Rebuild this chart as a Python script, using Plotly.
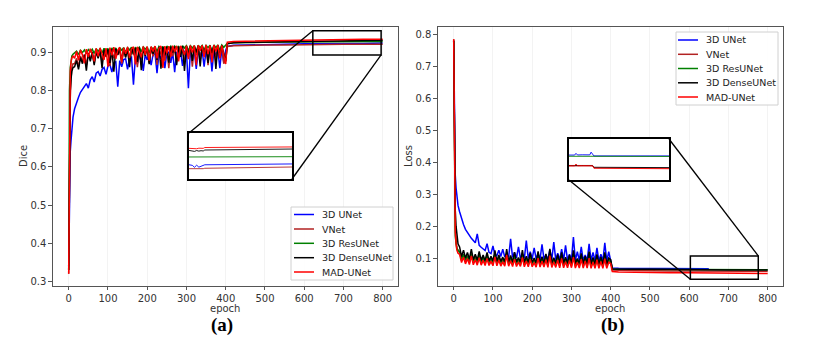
import plotly.graph_objects as go

W, H = 815, 355

MODELS = ["3D UNet", "VNet", "3D ResUNet", "3D DenseUNet", "MAD-UNet"]
COLORS = ["#0000ff", "#b22222", "#008000", "#000000", "#ff0000"]

# epochs sampled: dense at start, every 5 epochs while noisy, sparse after the lr drop at 400
EPOCHS = [0, 1, 2, 4, 6, 8, 11] + list(range(15, 401, 5)) + [404, 420, 450, 500, 550, 600, 650, 700, 750, 800]

# ---- (a) Dice ----
DICE_UNET = [0.34, 0.45, 0.58, 0.64, 0.67, 0.70, 0.73,
             0.752, 0.770, 0.782, 0.795, 0.803, 0.812, 0.818, 0.806, 0.828, 0.836, 0.822, 0.845, 0.849,
             0.838, 0.855, 0.860, 0.842, 0.864, 0.868, 0.848, 0.872, 0.875, 0.810, 0.878, 0.862, 0.881,
             0.883, 0.855, 0.885, 0.887, 0.815, 0.888, 0.870, 0.890, 0.892, 0.851, 0.893, 0.880, 0.894,
             0.866, 0.895, 0.896, 0.845, 0.897, 0.883, 0.898, 0.858, 0.899, 0.900, 0.872, 0.900, 0.848,
             0.901, 0.886, 0.902, 0.864, 0.902, 0.903, 0.806, 0.903, 0.878, 0.904, 0.856, 0.904, 0.889,
             0.905, 0.862, 0.905, 0.884, 0.906, 0.850, 0.906, 0.892, 0.907, 0.858, 0.907, 0.875, 0.905,
             0.915, 0.918, 0.919, 0.920, 0.921, 0.922, 0.922, 0.923, 0.923, 0.924]
DICE_VNET = [0.32, 0.45, 0.65, 0.78, 0.83, 0.86, 0.87,
             0.870, 0.884, 0.862, 0.890, 0.876, 0.894, 0.866, 0.897, 0.881, 0.899, 0.870, 0.901, 0.886,
             0.902, 0.873, 0.903, 0.889, 0.904, 0.864, 0.905, 0.884, 0.906, 0.893, 0.906, 0.870, 0.907,
             0.888, 0.907, 0.876, 0.908, 0.893, 0.908, 0.861, 0.909, 0.884, 0.909, 0.895, 0.910, 0.872,
             0.910, 0.889, 0.910, 0.867, 0.911, 0.894, 0.911, 0.878, 0.911, 0.858, 0.912, 0.890, 0.912,
             0.875, 0.912, 0.896, 0.912, 0.869, 0.913, 0.887, 0.913, 0.862, 0.913, 0.892, 0.914, 0.880,
             0.914, 0.893, 0.914, 0.866, 0.914, 0.889, 0.915, 0.874, 0.915, 0.896, 0.915, 0.870, 0.880,
             0.915, 0.917, 0.918, 0.919, 0.919, 0.920, 0.920, 0.921, 0.921, 0.921]
DICE_RES = [0.33, 0.60, 0.80, 0.86, 0.88, 0.89, 0.895,
            0.898, 0.903, 0.894, 0.905, 0.899, 0.906, 0.896, 0.907, 0.901, 0.908, 0.897, 0.909, 0.902,
            0.909, 0.898, 0.910, 0.903, 0.910, 0.895, 0.911, 0.904, 0.911, 0.899, 0.912, 0.905, 0.912,
            0.900, 0.912, 0.906, 0.913, 0.896, 0.913, 0.907, 0.913, 0.901, 0.914, 0.908, 0.914, 0.898,
            0.914, 0.908, 0.915, 0.902, 0.915, 0.909, 0.915, 0.897, 0.916, 0.910, 0.916, 0.903, 0.916,
            0.910, 0.916, 0.899, 0.917, 0.911, 0.917, 0.904, 0.917, 0.911, 0.917, 0.900, 0.918, 0.912,
            0.918, 0.905, 0.918, 0.912, 0.918, 0.901, 0.919, 0.912, 0.919, 0.906, 0.919, 0.913, 0.919,
            0.923, 0.925, 0.926, 0.926, 0.927, 0.927, 0.928, 0.928, 0.928, 0.928]
DICE_DENSE = [0.33, 0.50, 0.70, 0.80, 0.83, 0.85, 0.86,
              0.862, 0.878, 0.855, 0.886, 0.870, 0.893, 0.852, 0.898, 0.876, 0.901, 0.866, 0.903, 0.884,
              0.905, 0.858, 0.906, 0.889, 0.907, 0.872, 0.908, 0.849, 0.909, 0.893, 0.909, 0.878, 0.910,
              0.886, 0.910, 0.861, 0.911, 0.897, 0.911, 0.875, 0.912, 0.853, 0.912, 0.890, 0.913, 0.869,
              0.913, 0.896, 0.913, 0.880, 0.914, 0.857, 0.914, 0.892, 0.914, 0.873, 0.915, 0.899, 0.915,
              0.866, 0.915, 0.888, 0.916, 0.851, 0.916, 0.894, 0.916, 0.877, 0.916, 0.900, 0.917, 0.863,
              0.917, 0.891, 0.917, 0.872, 0.917, 0.898, 0.918, 0.856, 0.918, 0.886, 0.918, 0.895, 0.876,
              0.922, 0.925, 0.926, 0.927, 0.928, 0.929, 0.930, 0.930, 0.931, 0.931]
DICE_MAD = [0.32, 0.55, 0.75, 0.85, 0.875, 0.885, 0.89,
            0.884, 0.902, 0.879, 0.906, 0.893, 0.871, 0.908, 0.887, 0.909, 0.895, 0.876, 0.910, 0.889,
            0.911, 0.898, 0.880, 0.911, 0.862, 0.912, 0.892, 0.913, 0.883, 0.905, 0.913, 0.874, 0.912,
            0.896, 0.914, 0.885, 0.909, 0.914, 0.868, 0.914, 0.899, 0.887, 0.915, 0.893, 0.915, 0.878,
            0.915, 0.902, 0.916, 0.884, 0.911, 0.916, 0.859, 0.916, 0.897, 0.916, 0.888, 0.917, 0.901,
            0.917, 0.876, 0.917, 0.906, 0.893, 0.917, 0.882, 0.918, 0.899, 0.918, 0.866, 0.918, 0.904,
            0.918, 0.887, 0.919, 0.895, 0.918, 0.873, 0.919, 0.902, 0.919, 0.884, 0.918, 0.891, 0.869,
            0.926, 0.928, 0.929, 0.930, 0.931, 0.932, 0.932, 0.933, 0.934, 0.934]

# ---- (b) Loss ----
LOSS_UNET = [0.78, 0.60, 0.45, 0.36, 0.32, 0.29, 0.265,
             0.245, 0.222, 0.205, 0.190, 0.180, 0.170, 0.162, 0.155, 0.148, 0.176, 0.140, 0.134, 0.129,
             0.124, 0.145, 0.118, 0.114, 0.138, 0.110, 0.108, 0.125, 0.105, 0.128, 0.104, 0.112, 0.103,
             0.160, 0.102, 0.118, 0.101, 0.135, 0.100, 0.112, 0.099, 0.155, 0.099, 0.120, 0.098, 0.132,
             0.098, 0.114, 0.097, 0.143, 0.097, 0.110, 0.096, 0.126, 0.096, 0.150, 0.095, 0.115, 0.095,
             0.128, 0.094, 0.140, 0.094, 0.112, 0.094, 0.166, 0.093, 0.120, 0.093, 0.135, 0.093, 0.110,
             0.092, 0.145, 0.092, 0.118, 0.092, 0.132, 0.091, 0.112, 0.091, 0.148, 0.091, 0.120, 0.095,
             0.069, 0.068, 0.068, 0.067, 0.067, 0.067, 0.067, None, None, None]
LOSS_VNET = [0.785, 0.60, 0.35, 0.20, 0.16, 0.135, 0.122,
             0.118, 0.092, 0.108, 0.088, 0.104, 0.086, 0.112, 0.085, 0.100, 0.084, 0.106, 0.083, 0.098,
             0.083, 0.104, 0.082, 0.096, 0.082, 0.109, 0.081, 0.099, 0.081, 0.094, 0.080, 0.113, 0.080,
             0.097, 0.080, 0.102, 0.079, 0.093, 0.079, 0.106, 0.078, 0.096, 0.078, 0.101, 0.078, 0.092,
             0.077, 0.104, 0.077, 0.095, 0.077, 0.100, 0.076, 0.112, 0.076, 0.093, 0.076, 0.099, 0.075,
             0.103, 0.075, 0.094, 0.075, 0.098, 0.075, 0.107, 0.074, 0.092, 0.074, 0.101, 0.074, 0.096,
             0.074, 0.104, 0.073, 0.093, 0.073, 0.099, 0.073, 0.095, 0.073, 0.102, 0.073, 0.092, 0.088,
             0.063, 0.062, 0.061, 0.061, 0.060, 0.060, 0.059, 0.059, 0.059, 0.059]
LOSS_RES = [0.78, 0.50, 0.28, 0.17, 0.145, 0.13, 0.125,
            0.120, 0.098, 0.112, 0.095, 0.108, 0.093, 0.114, 0.092, 0.105, 0.091, 0.110, 0.090, 0.103,
            0.089, 0.108, 0.089, 0.101, 0.088, 0.112, 0.088, 0.103, 0.087, 0.099, 0.087, 0.115, 0.086,
            0.102, 0.086, 0.106, 0.085, 0.098, 0.085, 0.110, 0.084, 0.100, 0.084, 0.105, 0.084, 0.097,
            0.083, 0.108, 0.083, 0.099, 0.083, 0.104, 0.082, 0.114, 0.082, 0.097, 0.082, 0.103, 0.081,
            0.107, 0.081, 0.098, 0.081, 0.102, 0.081, 0.110, 0.080, 0.096, 0.080, 0.104, 0.080, 0.099,
            0.080, 0.107, 0.079, 0.097, 0.079, 0.102, 0.079, 0.098, 0.079, 0.105, 0.079, 0.095, 0.090,
            0.066, 0.065, 0.065, 0.064, 0.064, 0.064, 0.064, 0.064, 0.064, 0.064]
LOSS_DENSE = [0.78, 0.62, 0.40, 0.25, 0.20, 0.165, 0.145,
              0.135, 0.105, 0.125, 0.100, 0.118, 0.097, 0.128, 0.095, 0.112, 0.094, 0.121, 0.093, 0.110,
              0.092, 0.118, 0.091, 0.106, 0.091, 0.124, 0.090, 0.110, 0.090, 0.103, 0.089, 0.128, 0.089,
              0.108, 0.088, 0.119, 0.088, 0.102, 0.088, 0.125, 0.087, 0.106, 0.087, 0.116, 0.087, 0.100,
              0.086, 0.121, 0.086, 0.104, 0.086, 0.113, 0.085, 0.129, 0.085, 0.101, 0.085, 0.112, 0.084,
              0.118, 0.084, 0.103, 0.084, 0.110, 0.084, 0.124, 0.083, 0.099, 0.083, 0.115, 0.083, 0.106,
              0.083, 0.120, 0.082, 0.102, 0.082, 0.112, 0.082, 0.104, 0.082, 0.118, 0.082, 0.100, 0.095,
              0.066, 0.065, 0.065, 0.065, 0.064, 0.064, 0.064, 0.063, 0.063, 0.063]
LOSS_MAD = [0.785, 0.55, 0.30, 0.18, 0.145, 0.125, 0.115,
            0.112, 0.086, 0.103, 0.082, 0.098, 0.080, 0.107, 0.079, 0.095, 0.078, 0.101, 0.078, 0.093,
            0.077, 0.099, 0.077, 0.090, 0.076, 0.104, 0.076, 0.094, 0.075, 0.088, 0.075, 0.110, 0.075,
            0.092, 0.074, 0.097, 0.074, 0.087, 0.074, 0.102, 0.073, 0.091, 0.073, 0.096, 0.073, 0.086,
            0.072, 0.100, 0.072, 0.090, 0.072, 0.095, 0.071, 0.108, 0.071, 0.088, 0.071, 0.094, 0.070,
            0.099, 0.070, 0.089, 0.070, 0.093, 0.070, 0.103, 0.069, 0.087, 0.069, 0.097, 0.069, 0.091,
            0.069, 0.100, 0.068, 0.088, 0.068, 0.095, 0.068, 0.090, 0.068, 0.098, 0.068, 0.087, 0.083,
            0.058, 0.057, 0.056, 0.055, 0.054, 0.054, 0.053, 0.053, 0.052, 0.052]

# ---- zoomed insets (as drawn in the inset boxes) ----
INSET_A_EPOCHS = [330, 345, 355, 365, 375, 385, 395, 402, 800]
INSET_A = [
    [0.9222, 0.9218, 0.9204, 0.9219, 0.9205, 0.9210, 0.9215, 0.9222, 0.9228],
    [0.9194, 0.9193, 0.9194, 0.9192, 0.9194, 0.9193, 0.9194, 0.9197, 0.9206],
    [0.9278, 0.9278, 0.9277, 0.9278, 0.9277, 0.9278, 0.9278, 0.9279, 0.9280],
    [0.9325, 0.9322, 0.9318, 0.9324, 0.9320, 0.9323, 0.9321, 0.9328, 0.9335],
    [0.9340, 0.9338, 0.9342, 0.9337, 0.9341, 0.9338, 0.9340, 0.9346, 0.9350],
]
INSET_B_EPOCHS = [270, 290, 300, 307, 315, 340, 365, 380, 387, 395, 402, 800]
INSET_B = [
    [0.0662, 0.0664, 0.0662, 0.0682, 0.0663, 0.0665, 0.0662, 0.0664, 0.0696, 0.0663, 0.0652, 0.0652],
    [0.0534, 0.0535, 0.0534, 0.0535, 0.0534, 0.0535, 0.0534, 0.0535, 0.0534, 0.0535, 0.0512, 0.0508],
    [0.0648, 0.0648, 0.0647, 0.0648, 0.0648, 0.0647, 0.0648, 0.0648, 0.0648, 0.0647, 0.0646, 0.0646],
    [0.0540, 0.0540, 0.0541, 0.0540, 0.0541, 0.0540, 0.0541, 0.0540, 0.0541, 0.0540, 0.0519, 0.0515],
    [0.0537, 0.0538, 0.0536, 0.0557, 0.0537, 0.0538, 0.0536, 0.0537, 0.0540, 0.0537, 0.0508, 0.0502],
]

DICE = [DICE_UNET, DICE_VNET, DICE_RES, DICE_DENSE, DICE_MAD]
LOSS = [LOSS_UNET, LOSS_VNET, LOSS_RES, LOSS_DENSE, LOSS_MAD]
for s in DICE + LOSS:
    assert len(s) == len(EPOCHS), (len(s), len(EPOCHS))

X_TICKS = [0, 100, 200, 300, 400, 500, 600, 700, 800]
X_RANGE = [-40, 839]
YR_A = [0.2895, 0.966]
YR_B = [0.0144, 0.823]
INSET_A_RANGE = ([330, 800], [0.912, 0.945])
INSET_B_RANGE = ([270, 800], [0.037, 0.085])
ZOOM_A = (622, 796, 0.893, 0.956)
ZOOM_B = (603, 776, 0.034, 0.107)

# pixel boxes (left, right, top, bottom)
BOX_A = (53, 398, 27, 285.5)
BOX_B = (438, 783, 27, 285.5)
INSET_BOX_A = (189, 292, 133, 179)
INSET_BOX_B = (569, 669, 139, 180)


def px(x):
    return x / W


def py(y):
    return 1 - y / H


def data_to_paper(x, y, box, yr):
    l, r, t, b = box
    xp = l + (x - X_RANGE[0]) / (X_RANGE[1] - X_RANGE[0]) * (r - l)
    yp = b - (y - yr[0]) / (yr[1] - yr[0]) * (b - t)
    return px(xp), py(yp)


TICK_FONT = dict(family="DejaVu Sans", size=10, color="#333333")

fig = go.Figure()

for i in range(5):
    fig.add_trace(go.Scatter(x=EPOCHS, y=DICE[i], mode="lines", line=dict(color=COLORS[i], width=1.5),
                             xaxis="x", yaxis="y", showlegend=False))
for i in range(5):
    fig.add_trace(go.Scatter(x=EPOCHS, y=LOSS[i], mode="lines", line=dict(color=COLORS[i], width=1.5),
                             xaxis="x2", yaxis="y2", showlegend=False, connectgaps=False))
for i in range(5):
    fig.add_trace(go.Scatter(x=INSET_A_EPOCHS, y=INSET_A[i], mode="lines", line=dict(color=COLORS[i], width=0.9),
                             xaxis="x3", yaxis="y3", showlegend=False))
for i in range(5):
    fig.add_trace(go.Scatter(x=INSET_B_EPOCHS, y=INSET_B[i], mode="lines", line=dict(color=COLORS[i], width=0.9),
                             xaxis="x4", yaxis="y4", showlegend=False))


def main_x(box, anchor):
    return dict(domain=[px(box[0]), px(box[1])], anchor=anchor, range=X_RANGE, tickvals=X_TICKS,
                ticks="outside", ticklen=3.5, tickcolor="#555", tickfont=TICK_FONT,
                showline=True, mirror=True, linecolor="#555", linewidth=1.2,
                showgrid=True, gridcolor="#f3f3f3", zeroline=False)


def main_y(box, anchor, yr, tickvals):
    return dict(domain=[py(box[3]), py(box[2])], anchor=anchor, range=yr, tickvals=tickvals,
                tickformat=".1f", ticks="outside", ticklen=3.5, tickcolor="#555", tickfont=TICK_FONT,
                showline=True, mirror=True, linecolor="#555", linewidth=1.2,
                showgrid=False, zeroline=False)


def inset_axes(box, anchor, rng, is_x):
    if is_x:
        dom = [px(box[0]), px(box[1])]
    else:
        dom = [py(box[3]), py(box[2])]
    return dict(domain=dom, anchor=anchor, range=rng, showticklabels=False, ticks="",
                showline=True, mirror=True, linecolor="black", linewidth=1.5,
                showgrid=False, zeroline=False)


fig.update_layout(
    width=W, height=H,
    margin=dict(l=0, r=0, t=0, b=0),
    paper_bgcolor="white", plot_bgcolor="white",
    xaxis=main_x(BOX_A, "y"),
    yaxis=main_y(BOX_A, "x", YR_A, [0.3, 0.4, 0.5, 0.6, 0.7, 0.8, 0.9]),
    xaxis2=main_x(BOX_B, "y2"),
    yaxis2=main_y(BOX_B, "x2", YR_B, [0.1, 0.2, 0.3, 0.4, 0.5, 0.6, 0.7, 0.8]),
    xaxis3=inset_axes(INSET_BOX_A, "y3", INSET_A_RANGE[0], True),
    yaxis3=inset_axes(INSET_BOX_A, "x3", INSET_A_RANGE[1], False),
    xaxis4=inset_axes(INSET_BOX_B, "y4", INSET_B_RANGE[0], True),
    yaxis4=inset_axes(INSET_BOX_B, "x4", INSET_B_RANGE[1], False),
)

# zoom source rectangles
for (x0, x1, y0, y1), xr, yr in [(ZOOM_A, "x", "y"), (ZOOM_B, "x2", "y2")]:
    fig.add_shape(type="rect", xref=xr, yref=yr, x0=x0, x1=x1, y0=y0, y1=y1,
                  line=dict(color="black", width=1.5))

# connector lines: (a) top-left & bottom-right, (b) top-right & bottom-left
conn = [
    (data_to_paper(ZOOM_A[0], ZOOM_A[3], BOX_A, YR_A), (px(INSET_BOX_A[0]), py(INSET_BOX_A[2]))),
    (data_to_paper(ZOOM_A[1], ZOOM_A[2], BOX_A, YR_A), (px(INSET_BOX_A[1]), py(INSET_BOX_A[3]))),
    (data_to_paper(ZOOM_B[1], ZOOM_B[3], BOX_B, YR_B), (px(INSET_BOX_B[1]), py(INSET_BOX_B[2]))),
    (data_to_paper(ZOOM_B[0], ZOOM_B[2], BOX_B, YR_B), (px(INSET_BOX_B[0]), py(INSET_BOX_B[3]))),
]
for (ax, ay), (bx, by) in conn:
    fig.add_shape(type="line", xref="paper", yref="paper", x0=ax, y0=ay, x1=bx, y1=by,
                  line=dict(color="black", width=1.3))


def add_legend(box, rows, line_x, text_x):
    fig.add_shape(type="rect", xref="paper", yref="paper", x0=px(box[0]), x1=px(box[1]),
                  y0=py(box[3]), y1=py(box[2]), line=dict(color="#d0d0d0", width=1),
                  fillcolor="rgba(255,255,255,0.85)")
    for name, color, ry in zip(MODELS, COLORS, rows):
        fig.add_shape(type="line", xref="paper", yref="paper", x0=px(line_x[0]), x1=px(line_x[1]),
                      y0=py(ry), y1=py(ry), line=dict(color=color, width=1.5))
        fig.add_annotation(x=px(text_x), y=py(ry), xref="paper", yref="paper", text=name,
                           showarrow=False, xanchor="left", yanchor="middle",
                           font=dict(family="DejaVu Sans", size=9.5, color="#222"))


add_legend((291, 393, 207, 280), [214.5, 229, 243.3, 257.7, 272], (294, 314), 320)
add_legend((676, 778, 32, 105), [40, 54.3, 68.5, 82.8, 97], (678, 698), 704)

# axis titles and panel labels
for text, x, y, angle in [("epoch", 225, 308, 0), ("epoch", 610, 308, 0),
                          ("Dice", 23, 156, -90), ("Loss", 408, 156, -90)]:
    fig.add_annotation(x=px(x), y=py(y), xref="paper", yref="paper", text=text, showarrow=False,
                       xanchor="center", yanchor="middle", textangle=angle,
                       font=dict(family="DejaVu Sans", size=10, color="#333"))
for text, x in [("(a)", 222), ("(b)", 612)]:
    fig.add_annotation(x=px(x), y=py(325), xref="paper", yref="paper", text="<b>" + text + "</b>",
                       showarrow=False, xanchor="center", yanchor="middle",
                       font=dict(family="Liberation Serif", size=19, color="black"))

# the page body has a default 8px margin; drop it so the figure sits at the window origin
fig.write_html("out.html", config={"displayModeBar": False},
               post_script="document.body.style.margin='0';")
